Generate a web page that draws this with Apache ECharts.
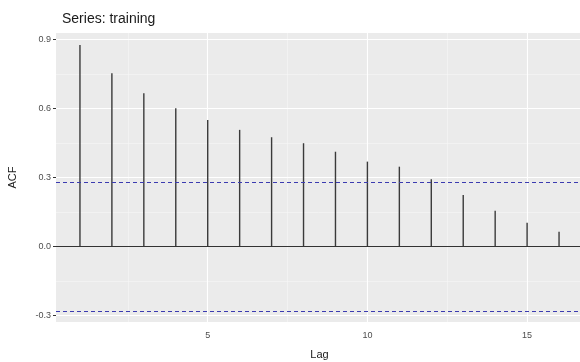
<!DOCTYPE html>
<html>
<head>
<meta charset="utf-8">
<script src="https://cdn.jsdelivr.net/npm/echarts@6/dist/echarts.min.js"></script>
<style>html,body{margin:0;padding:0;background:#fff;}#c{width:580px;height:362px;}</style>
</head>
<body>
<div id="c"></div>
<script>
const titleText = 'Series: training';
const lags = [1, 2, 3, 4, 5, 6, 7, 8, 9, 10, 11, 12, 13, 14, 15, 16];
const acfValues = [0.876, 0.753, 0.666, 0.601, 0.550, 0.507, 0.475, 0.449, 0.412, 0.369, 0.347, 0.292, 0.224, 0.156, 0.103, 0.064];
const ciLimit = 0.28;
const xTicks = [5, 10, 15];
const xMinor = [2.5, 7.5, 12.5];
const yTicks = [-0.3, 0.0, 0.3, 0.6, 0.9];
const yMinor = [-0.15, 0.15, 0.45, 0.75];

const font = 'Liberation Sans, Arial, Helvetica, sans-serif';
const chart = echarts.init(document.getElementById('c'), null, {renderer: 'canvas'});

const gridLines = []
  .concat(xMinor.map(v => ({xAxis: v, lineStyle: {color: '#f6f6f6', width: 0.6, type: 'solid'}})))
  .concat(yMinor.map(v => ({yAxis: v, lineStyle: {color: '#f6f6f6', width: 0.6, type: 'solid'}})))
  .concat(xTicks.map(v => ({xAxis: v, lineStyle: {color: '#ffffff', width: 1.1, type: 'solid'}})))
  .concat(yTicks.map(v => ({yAxis: v, lineStyle: {color: '#ffffff', width: 1.1, type: 'solid'}})));

chart.setOption({
  animation: false,
  backgroundColor: '#ffffff',
  title: {
    text: titleText,
    left: 57, top: 7,
    textStyle: {fontFamily: font, fontSize: 14, fontWeight: 'normal', color: '#1a1a1a'}
  },
  grid: {
    left: 56, top: 33, width: 527, height: 289,
    outerBoundsMode: 'none',
    show: true, backgroundColor: '#EBEBEB', borderWidth: 0, containLabel: false
  },
  xAxis: {
    type: 'value', min: 0.25, max: 16.75,
    name: 'Lag', nameLocation: 'middle', nameGap: 27,
    nameTextStyle: {fontFamily: font, fontSize: 11, color: '#1a1a1a'},
    axisLine: {show: false},
    splitLine: {show: false},
    axisTick: {show: true, length: 3, customValues: xTicks, lineStyle: {color: '#333333'}},
    axisLabel: {show: true, customValues: xTicks, margin: 9, fontFamily: font, fontSize: 9, color: '#4D4D4D'}
  },
  yAxis: {
    type: 'value', min: -0.328, max: 0.928,
    name: 'ACF', nameLocation: 'middle', nameGap: 38, nameRotate: 90,
    nameTextStyle: {fontFamily: font, fontSize: 11, color: '#1a1a1a'},
    axisLine: {show: false},
    splitLine: {show: false},
    axisTick: {show: true, length: 3, customValues: yTicks, lineStyle: {color: '#333333'}},
    axisLabel: {show: true, customValues: yTicks, margin: 5, fontFamily: font, fontSize: 9, color: '#4D4D4D',
      formatter: v => Number(v).toFixed(1)}
  },
  series: [
    {
      type: 'line', data: [], z: 1, silent: true,
      markLine: {z: 1, silent: true, symbol: 'none', label: {show: false}, animation: false, data: gridLines}
    },
    {
      type: 'custom', z: 4, silent: true,
      data: lags.map((l, i) => [l, acfValues[i]]),
      encode: {x: 0, y: 1},
      renderItem: function (params, api) {
        const x = api.value(0), y = api.value(1);
        const p0 = api.coord([x, 0]);
        const p1 = api.coord([x, y]);
        return {type: 'line', shape: {x1: p0[0], y1: p0[1], x2: p1[0], y2: p1[1]},
          style: {stroke: '#3a3a3a', lineWidth: 1.4}};
      },
      markLine: {
        z: 5, silent: true, symbol: 'none', label: {show: false}, animation: false,
        data: [
          {yAxis: 0, lineStyle: {color: '#333333', width: 1.2, type: 'solid'}},
          {yAxis: ciLimit, lineStyle: {color: '#3b3bb0', width: 1.2, type: [4, 3]}},
          {yAxis: -ciLimit, lineStyle: {color: '#3b3bb0', width: 1.2, type: [4, 3]}}
        ]
      }
    }
  ]
});
</script>
</body>
</html>
